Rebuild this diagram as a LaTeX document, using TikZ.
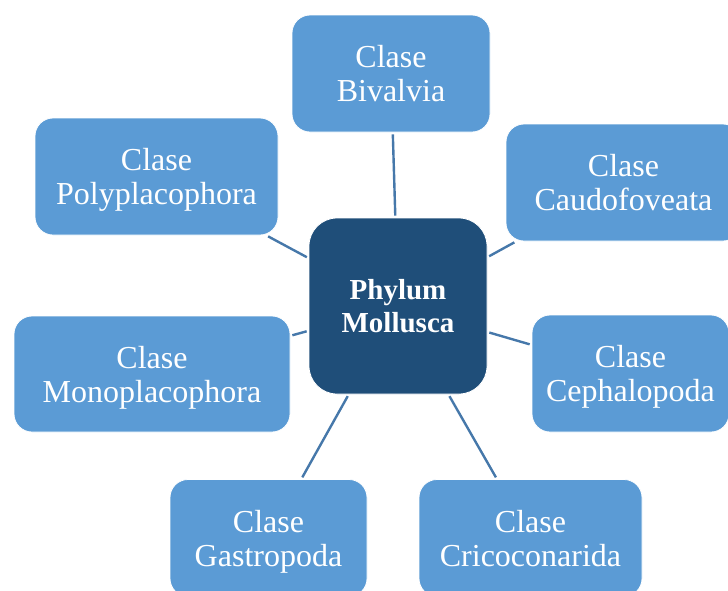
\documentclass[tikz,border=0pt]{standalone}
\usepackage{fontspec}
\setmainfont{Liberation Serif}
\usepackage{tikz}
\usepackage{xcolor}
\usetikzlibrary{shapes, positioning}
\definecolor{classblue}{RGB}{91, 155, 213}
\definecolor{phylumblue}{RGB}{31, 78, 121}
\definecolor{linkblue}{RGB}{70, 120, 170}

\begin{document}
\begin{tikzpicture}[x=1pt, y=-1pt,
  every node/.style={font=\fontsize{32}{34}\selectfont, text=white, align=center, text depth=0pt},
  classbox/.style={rectangle, draw=white, line width=0.8pt, fill=classblue, rounded corners=18pt, minimum height=117pt},
  phylumbox/.style={rectangle, draw=white, line width=0.8pt, fill=phylumblue, rounded corners=28pt, minimum width=178pt, minimum height=176pt, font=\fontsize{29}{33}\selectfont\bfseries},
  link/.style={draw=linkblue, line width=2.4pt, shorten >=2pt, shorten <=2pt}]
\useasboundingbox (0,0) rectangle (728,590);
\clip (0,0) rectangle (728,590);
\node[phylumbox] (mollusca) at (398,306) {Phylum \\ Mollusca};
\node[classbox, minimum width=198pt] (bivalvia) at (391,73.5) {Clase \\ Bivalvia};
\node[classbox, minimum width=235pt] (caudo) at (623.5,182.5) {Clase \\ Caudofoveata};
\node[classbox, minimum width=197pt] (cephalo) at (630.5,373.5) {Clase \\ Cephalopoda};
\node[classbox, minimum width=223pt] (crico) at (530.5,538) {Clase \\ Cricoconarida};
\node[classbox, minimum width=197pt] (gastro) at (268.5,538) {Clase \\ Gastropoda};
\node[classbox, minimum width=276pt, minimum height=116pt] (mono) at (152,374) {Clase \\ Monoplacophora};
\node[classbox, minimum width=243pt] (poly) at (156.5,176.5) {Clase \\ Polyplacophora};

\draw[link] (mollusca) -- (bivalvia);
\draw[link] (mollusca) -- (caudo);
\draw[link] (mollusca) -- (cephalo);
\draw[link] (mollusca) -- (crico);
\draw[link] (mollusca) -- (gastro);
\draw[link] (mollusca) -- (mono);
\draw[link] (mollusca) -- (poly);
\end{tikzpicture}
\end{document}
